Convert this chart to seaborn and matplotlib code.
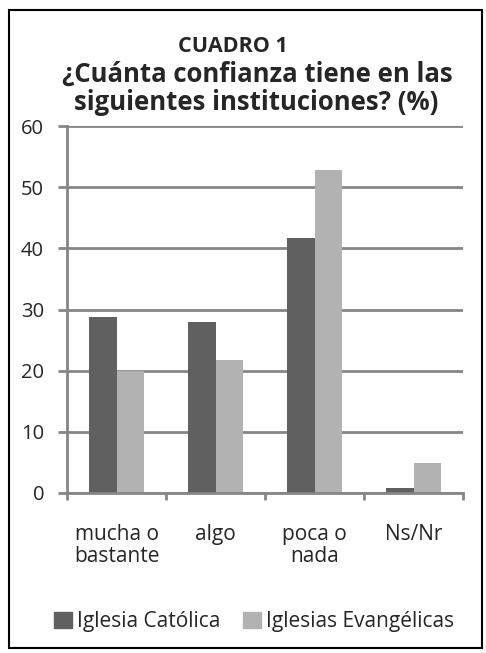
import matplotlib
matplotlib.use("Agg")
import matplotlib.pyplot as plt
import matplotlib.patches as mpatches
import seaborn as sns
import pandas as pd

categories = ["mucha o\nbastante", "algo", "poca o\nnada", "Ns/Nr"]
series_names = ["Iglesia Católica", "Iglesias Evangélicas"]
catolica = [28.7, 28.0, 41.7, 0.8]
evangelicas = [19.9, 21.8, 52.8, 4.9]
yticks = [0, 10, 20, 30, 40, 50, 60]
colors = ["#606060", "#b2b2b2"]

df = pd.DataFrame({
    "cat": categories * 2,
    "serie": [series_names[0]] * 4 + [series_names[1]] * 4,
    "valor": catolica + evangelicas,
})

sns.set_style("white")
plt.rcParams["font.family"] = ["Open Sans", "DejaVu Sans"]

fig = plt.figure(figsize=(4.86, 6.53), dpi=100)
ax = fig.add_axes([67/486, 1 - 493/653, (463-67)/486, (493-126)/653])

sns.barplot(data=df, x="cat", y="valor", hue="serie", palette=colors,
            width=0.56, gap=0, ax=ax, saturation=1, legend=False, linewidth=0)

grid_c = "#868686"
ax.set_ylim(0, 60)
ax.set_xlim(-0.5, 3.5)
ax.set_yticks(yticks)
ax.set_yticklabels([str(v) for v in yticks], fontsize=14.5)
ax.yaxis.grid(True, color=grid_c, linewidth=2)
ax.set_axisbelow(True)
for s in ["top", "right"]:
    ax.spines[s].set_visible(False)
ax.spines["left"].set_color(grid_c)
ax.spines["left"].set_linewidth(2)
ax.spines["bottom"].set_color(grid_c)
ax.spines["bottom"].set_linewidth(2)
ax.tick_params(axis="y", length=6.5, width=2, color=grid_c, pad=10, left=True)
ax.set_xticks([-0.5, 0.5, 1.5, 2.5, 3.5], minor=False)
ax.set_xticklabels([])
ax.tick_params(axis="x", which="major", length=5, width=2, color=grid_c, bottom=True)
ax.set_xticks([0, 1, 2, 3], minor=True)
ax.set_xticklabels(categories, minor=True, fontsize=15, linespacing=1.1, va="top")
ax.tick_params(axis="x", which="minor", length=0, pad=22)
ax.set_xlabel("")
ax.set_ylabel("")

fig.text(233/486, 1 - 46/653, "CUADRO 1", ha="center", va="center",
         fontsize=15.5, fontweight="bold")
fig.text(257/486, 1 - 74/653, "¿Cuánta confianza tiene en las",
         ha="center", va="center", fontsize=18.5, fontweight="bold")
fig.text(256/486, 1 - 103/653, "siguientes instituciones? (%)",
         ha="center", va="center", fontsize=18.5, fontweight="bold")

handles = [mpatches.Patch(color=c, label=n) for c, n in zip(colors, series_names)]
fig.legend(handles=handles, loc="center", bbox_to_anchor=(254/486, 1 - 622/653), ncol=2,
           frameon=False, fontsize=15, handlelength=0.85, handleheight=0.8,
           handletextpad=0.25, columnspacing=1.1)

fig.patches.append(mpatches.Rectangle((9/486, 1 - 648/653), (482-9)/486, (648-10)/653,
                                      transform=fig.transFigure, fill=False,
                                      edgecolor="black", linewidth=1.5))

fig.savefig("out.png", dpi=100)
